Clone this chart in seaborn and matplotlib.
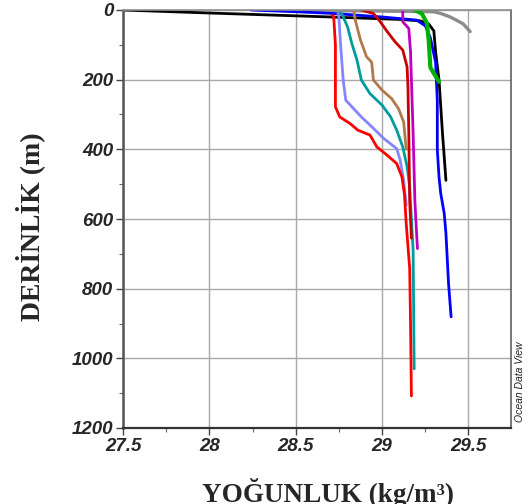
import matplotlib
matplotlib.use("Agg")
import matplotlib.pyplot as plt
import seaborn as sns
import pandas as pd
from matplotlib.ticker import MultipleLocator

# ---- data (density kg/m3, depth m) ----
gray_x = [28.40, 28.70, 29.00, 29.30, 29.34, 29.39, 29.43, 29.47, 29.51]
gray_d = [1, 2, 3, 5, 10, 19, 29, 40, 62]

black_x = [27.50, 27.90, 28.33, 28.70, 29.10, 29.22, 29.27, 29.30, 29.31, 29.33, 29.35, 29.37]
black_d = [0, 7, 14, 20, 27, 31, 40, 60, 120, 201, 354, 489]

blue_x = [28.24, 28.50, 28.72, 29.00, 29.20, 29.25, 29.28, 29.31, 29.32, 29.32, 29.33, 29.34, 29.36, 29.37, 29.385, 29.40]
blue_d = [0, 5, 10, 20, 29, 45, 80, 150, 260, 400, 480, 527, 584, 641, 785, 881]

brown_x = [28.835, 28.845, 28.875, 28.91, 28.94, 28.95, 29.00, 29.055, 29.095, 29.125, 29.14]
brown_d = [0, 29, 86, 134, 150, 201, 230, 254, 283, 321, 400]

lblue_x = [28.745, 28.75, 28.76, 28.775, 28.79, 28.835, 28.88, 28.94, 29.01, 29.085, 29.105, 29.125, 29.14]
lblue_d = [10, 19, 100, 201, 259, 283, 307, 335, 369, 398, 431, 489, 560]

teal_x = [28.76, 28.77, 28.80, 28.825, 28.855, 28.88, 28.93, 29.00, 29.05, 29.085, 29.12, 29.145, 29.16, 29.17, 29.18, 29.186]
teal_d = [8, 14, 48, 96, 144, 201, 240, 273, 307, 345, 393, 450, 508, 600, 690, 1030]

red_x = [28.71, 28.72, 28.73, 28.73, 28.73, 28.755, 28.815, 28.86, 28.93, 28.97, 29.03, 29.085, 29.115, 29.13, 29.14, 29.16, 29.165, 29.17]
red_d = [15, 19, 100, 201, 278, 307, 326, 345, 359, 393, 417, 441, 479, 530, 613, 742, 900, 1108]

dred_x = [28.88, 28.95, 28.99, 29.03, 29.075, 29.12, 29.145, 29.15, 29.155, 29.16, 29.17]
dred_d = [0, 10, 34, 62, 91, 115, 163, 220, 354, 546, 655]

mag_x = [29.12, 29.12, 29.155, 29.165, 29.17, 29.18, 29.19, 29.20, 29.205]
mag_d = [0, 34, 53, 120, 200, 354, 546, 641, 685]

green_x = [29.19, 29.23, 29.26, 29.27, 29.28, 29.30, 29.33]
green_d = [0, 10, 38, 86, 165, 182, 206]

x_ticks = [27.5, 28, 28.5, 29, 29.5]
x_tick_labels = ["27.5", "28", "28.5", "29", "29.5"]
y_ticks = [0, 200, 400, 600, 800, 1000, 1200]

series = [
    ("gray", gray_x, gray_d, "#8c8c8c", 2.4),
    ("black", black_x, black_d, "#000000", 2.0),
    ("blue", blue_x, blue_d, "#0000ff", 2.0),
    ("brown", brown_x, brown_d, "#b07a4a", 2.0),
    ("lblue", lblue_x, lblue_d, "#8585ff", 2.0),
    ("teal", teal_x, teal_d, "#009c9c", 2.0),
    ("red", red_x, red_d, "#ff0000", 2.0),
    ("dred", dred_x, dred_d, "#cc0000", 2.0),
    ("mag", mag_x, mag_d, "#c000c0", 2.0),
    ("green", green_x, green_d, "#00b000", 3.0),
]

sns.set_theme(style="white")
plt.rcParams["font.family"] = ["Liberation Sans", "DejaVu Sans"]

fig = plt.figure(figsize=(5.32, 5.04), dpi=100)
ax = fig.add_axes([123 / 532, 1 - 428 / 504, (510.7 - 123) / 532, (428 - 10) / 504])

for name, xs, ds, col, lw in series:
    df = pd.DataFrame({"density": xs, "depth": ds})
    sns.lineplot(data=df, x="density", y="depth", sort=False, estimator=None,
                 color=col, linewidth=lw, ax=ax, legend=False)

ax.set_xlim(27.5, 29.745)
ax.set_ylim(1200, 0)
ax.set_xticks(x_ticks)
ax.set_xticklabels(x_tick_labels)
ax.set_yticks(y_ticks)
ax.xaxis.set_minor_locator(MultipleLocator(0.25))
ax.yaxis.set_minor_locator(MultipleLocator(100))
ax.grid(True, which="major", color="#a8a8a8", linewidth=1.0)
ax.set_axisbelow(True)
ax.set_xlabel("")
ax.set_ylabel("")

for lab in ax.get_xticklabels() + ax.get_yticklabels():
    lab.set_fontsize(13.5)
    lab.set_fontweight("bold")
    lab.set_fontstyle("italic")

ax.tick_params(axis="both", which="major", direction="out", length=5, width=1,
               color="#444444", bottom=True, left=True, pad=2)
ax.tick_params(axis="both", which="minor", direction="out", length=3, width=0.8,
               color="#666666", bottom=True, left=True)

ax.spines["left"].set_color("#555555")
ax.spines["left"].set_linewidth(1.8)
ax.spines["bottom"].set_color("#333333")
ax.spines["bottom"].set_linewidth(1.6)
ax.spines["top"].set_color("#909090")
ax.spines["top"].set_linewidth(1.2)
ax.spines["right"].set_color("#606060")
ax.spines["right"].set_linewidth(1.2)

fig.text(30 / 532, 1 - 227 / 504, "DERİNLİK (m)", rotation=90, ha="center", va="center",
         fontsize=20, fontweight="bold", family=["Liberation Serif", "DejaVu Serif"])
fig.text(328 / 532, 0.004, "YOĞUNLUK (kg/m³)", ha="center", va="baseline",
         fontsize=19.5, fontweight="bold", family=["Liberation Serif", "DejaVu Serif"])
fig.text(520 / 532, 1 - 382 / 504, "Ocean Data View", rotation=90, ha="center", va="center",
         fontsize=7.5, fontstyle="italic", color="#222222")

fig.savefig("out.png", dpi=100)
